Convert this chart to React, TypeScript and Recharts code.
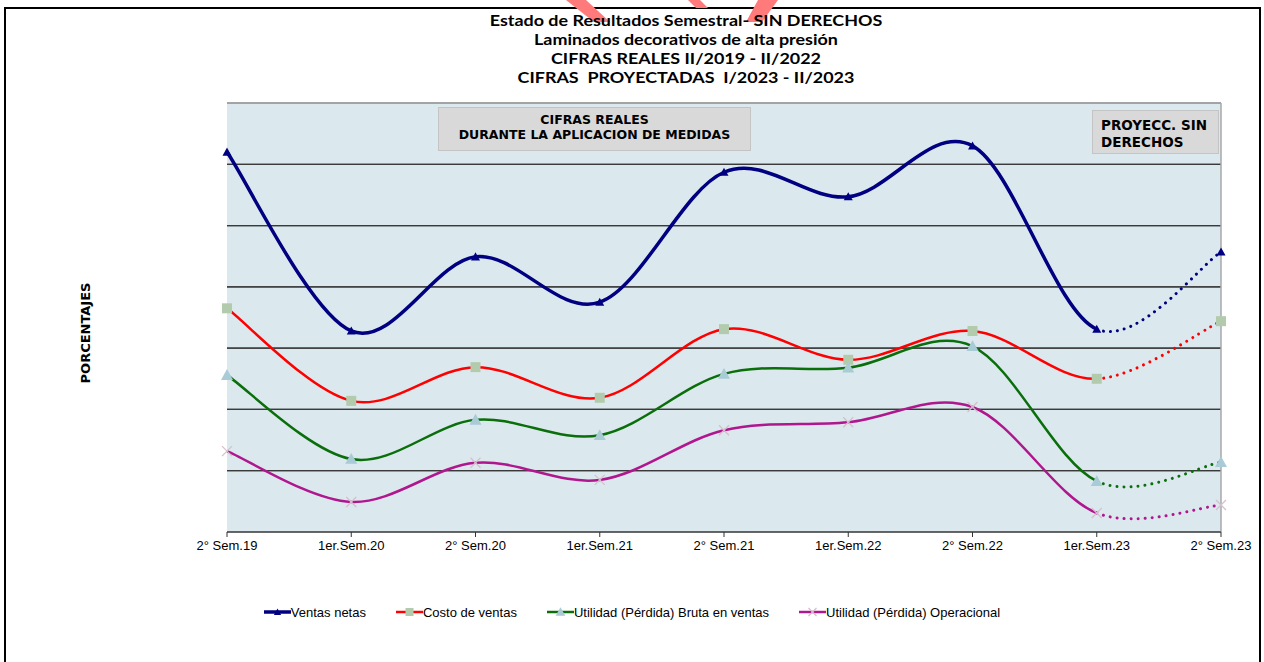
import React from "react";
import {
  LineChart,
  Line,
  XAxis,
  YAxis,
  CartesianGrid,
  ReferenceLine,
} from "recharts";

const categories = [
  "2° Sem.19",
  "1er.Sem.20",
  "2° Sem.20",
  "1er.Sem.21",
  "2° Sem.21",
  "1er.Sem.22",
  "2° Sem.22",
  "1er.Sem.23",
  "2° Sem.23",
];
const ventasNetas = [6.2, 3.28, 4.49, 3.75, 5.87, 5.47, 6.3, 3.31, 4.57];
const costoVentas = [3.65, 2.14, 2.69, 2.19, 3.31, 2.81, 3.28, 2.5, 3.44];
const utilidadBruta = [2.56, 1.19, 1.83, 1.58, 2.58, 2.68, 3.03, 0.83, 1.14];
const utilidadOperacional = [1.32, 0.49, 1.13, 0.85, 1.66, 1.79, 2.04, 0.31, 0.44];
const yTicks = [0, 1, 2, 3, 4, 5, 6, 7];
const gridValues = [1, 2, 3, 4, 5, 6];
const titleLines = [
  "Estado de Resultados Semestral- SIN DERECHOS",
  "Laminados decorativos de alta presión",
  "CIFRAS REALES II/2019 - II/2022",
  "CIFRAS  PROYECTADAS  I/2023 - II/2023",
];

const data = categories.map((c, i) => ({
  cat: c,
  ventas: ventasNetas[i],
  costo: costoVentas[i],
  bruta: utilidadBruta[i],
  oper: utilidadOperacional[i],
}));

// Excel-like smoothing (Catmull-Rom via cubic Bezier) drawing only segments [from, to)
function makeCurve(from: number, to: number) {
  return (context: any) => {
    let pts: number[][] = [];
    return {
      areaStart() {},
      areaEnd() {},
      lineStart() {
        pts = [];
      },
      point(x: number, y: number) {
        pts.push([+x, +y]);
      },
      lineEnd() {
        const n = pts.length;
        if (n === 0 || from >= n) return;
        const end = Math.min(to, n - 1);
        context.moveTo(pts[from][0], pts[from][1]);
        for (let i = from; i < end; i++) {
          const p0 = pts[Math.max(i - 1, 0)];
          const p1 = pts[i];
          const p2 = pts[i + 1];
          const p3 = pts[Math.min(i + 2, n - 1)];
          const c1x = p1[0] + (p2[0] - p0[0]) / 6;
          const c1y = p1[1] + (p2[1] - p0[1]) / 6;
          const c2x = p2[0] - (p3[0] - p1[0]) / 6;
          const c2y = p2[1] - (p3[1] - p1[1]) / 6;
          context.bezierCurveTo(c1x, c1y, c2x, c2y, p2[0], p2[1]);
        }
      },
    };
  };
}

const solidCurve = makeCurve(0, 7);
const dottedCurve = makeCurve(7, 8);

type Kind = "tri-navy" | "square" | "tri-blue" | "cross";

function Marker({ kind, cx, cy, scale = 1 }: { kind: Kind; cx: number; cy: number; scale?: number }) {
  if (kind === "tri-navy") {
    const s = 4.5 * scale;
    return (
      <polygon
        points={`${cx},${cy - s} ${cx + s},${cy + s * 0.8} ${cx - s},${cy + s * 0.8}`}
        fill="#000080"
      />
    );
  }
  if (kind === "square") {
    const h = 5 * scale;
    return <rect x={cx - h} y={cy - h} width={2 * h} height={2 * h} fill="#b2cbac" />;
  }
  if (kind === "tri-blue") {
    const s = 6 * scale;
    return (
      <polygon
        points={`${cx},${cy - s} ${cx + s},${cy + s * 0.8} ${cx - s},${cy + s * 0.8}`}
        fill="#a9cbd6"
      />
    );
  }
  const h = 5 * scale;
  return (
    <g stroke="#d4bfcc" strokeWidth={1.2}>
      <line x1={cx - h} y1={cy - h} x2={cx + h} y2={cy + h} />
      <line x1={cx - h} y1={cy + h} x2={cx + h} y2={cy - h} />
    </g>
  );
}

const makeDot = (kind: Kind) => (props: any) => {
  const { cx, cy, index } = props;
  if (cx == null || cy == null) return <g key={`d-${kind}-${index}`} />;
  return (
    <g key={`d-${kind}-${index}`}>
      <Marker kind={kind} cx={cx} cy={cy} />
    </g>
  );
};

const EmptyTick = () => <g />;

const series = [
  { key: "ventas", name: "Ventas netas", color: "#000080", width: 3.5, kind: "tri-navy" as Kind },
  { key: "costo", name: "Costo de ventas", color: "#ff0000", width: 2.5, kind: "square" as Kind },
  { key: "bruta", name: "Utilidad (Pérdida) Bruta en ventas", color: "#0a6e0a", width: 2.5, kind: "tri-blue" as Kind },
  { key: "oper", name: "Utilidad (Pérdida) Operacional", color: "#b0168e", width: 2.5, kind: "cross" as Kind },
];

const LegendBlock = () => (
  <div
    style={{
      position: "absolute",
      left: 0,
      top: 604,
      width: 1264,
      display: "flex",
      justifyContent: "center",
      gap: 30,
      fontFamily: "'Liberation Sans', Arial, sans-serif",
      fontSize: 13,
      color: "#000",
    }}
  >
    {series.map((s) => (
      <div key={s.key} style={{ display: "flex", alignItems: "center" }}>
        <svg width={27} height={16}>
          <line x1={0} y1={8} x2={27} y2={8} stroke={s.color} strokeWidth={s.width} />
          <Marker kind={s.kind} cx={13.5} cy={8} scale={0.8} />
        </svg>
        <span>{s.name}</span>
      </div>
    ))}
  </div>
);

export default function App() {
  return (
    <div style={{ position: "absolute", left: 0, top: 0, width: 1264, height: 662, background: "#fff", overflow: "hidden" }}>
      {/* frame */}
      <div
        style={{
          position: "absolute",
          left: 4,
          top: 7,
          width: 1253,
          height: 700,
          border: "2px solid #000",
        }}
      />
      {/* red watermark fragments */}
      <svg style={{ position: "absolute", left: 0, top: 0 }} width={1264} height={30}>
        <polygon points="566,0 586,0 610,22 594,22" fill="#ff7b7b" />
        <polygon points="688,0 700,0 708,8 696,8" fill="#ff7b7b" />
        <polygon points="758,0 778,0 762,22 746,22" fill="#ff7b7b" />
      </svg>
      {/* title */}
      <div
        style={{
          position: "absolute",
          left: 336,
          top: 10,
          width: 700,
          textAlign: "center",
          fontFamily: "Lato, 'Open Sans', sans-serif",
          fontWeight: 700,
          fontSize: 16,
          lineHeight: "19px",
          color: "#000",
          transform: "scaleX(1.12)",
          transformOrigin: "350px 0",
        }}
      >
        {titleLines.map((t, i) => (
          <div key={i} style={{ whiteSpace: "pre" }}>
            {t}
          </div>
        ))}
      </div>
      {/* y axis title */}
      <div
        style={{
          position: "absolute",
          left: 85,
          top: 333,
          transform: "translate(-50%, -50%) rotate(-90deg)",
          fontFamily: "'DejaVu Sans', Verdana, sans-serif",
          fontWeight: 700,
          fontSize: 13,
          whiteSpace: "nowrap",
        }}
      >
        PORCENTAJES
      </div>
      <div style={{ position: "absolute", left: 0, top: 0 }}>
        <LineChart
          width={1264}
          height={662}
          data={data}
          margin={{ top: 103, right: 43, bottom: 100, left: 227 }}
        >
          <CartesianGrid
            vertical={false}
            stroke="#3a3a3a"
            strokeWidth={1.2}
            fill="#dbe8ee"
            fillOpacity={1}
          />
          <XAxis
            dataKey="cat"
            height={30}
            interval={0}
            tickSize={5}
            tickMargin={4}
            stroke="#333"
            tick={{ fill: "#000", fontSize: 13, fontFamily: "'Liberation Sans', Arial, sans-serif" }}
          />
          <YAxis
            width={0}
            domain={[0, 7]}
            ticks={yTicks}
            interval={0}
            tick={EmptyTick}
            tickSize={5}
            stroke="#555"
          />
          {gridValues.map((v) => (
            <ReferenceLine key={`g-${v}`} y={v} stroke="#3a3a3a" strokeWidth={1.2} />
          ))}
          <ReferenceLine y={7} stroke="#a8a8a8" strokeWidth={1.5} />
          <ReferenceLine x="2° Sem.23" stroke="#a8a8a8" strokeWidth={1.5} />
          {series.map((s) => (
            <Line
              key={`dot-${s.key}`}
              dataKey={s.key}
              type={dottedCurve as any}
              stroke={s.color}
              strokeWidth={3}
              strokeDasharray="0.01 7"
              strokeLinecap="round"
              dot={false}
              activeDot={false}
              legendType="none"
              isAnimationActive={false}
            />
          ))}
          {series.map((s) => (
            <Line
              key={s.key}
              dataKey={s.key}
              name={s.name}
              type={solidCurve as any}
              stroke={s.color}
              strokeWidth={s.width}
              dot={makeDot(s.kind)}
              activeDot={false}
              isAnimationActive={false}
            />
          ))}
        </LineChart>
      </div>
      <LegendBlock />
      {/* annotation boxes */}
      <div
        style={{
          position: "absolute",
          left: 438,
          top: 107,
          width: 311,
          height: 38,
          background: "#d9d9d9",
          border: "1px solid #c4c4c4",
          fontFamily: "'DejaVu Sans', Verdana, sans-serif",
          fontWeight: 700,
          fontSize: 12.5,
          lineHeight: "15px",
          textAlign: "center",
          paddingTop: 4,
          boxSizing: "content-box",
        }}
      >
        <div>CIFRAS REALES</div>
        <div>DURANTE LA APLICACION DE MEDIDAS</div>
      </div>
      <div
        style={{
          position: "absolute",
          left: 1092,
          top: 110,
          width: 127,
          height: 44,
          background: "#d9d9d9",
          border: "1px solid #c4c4c4",
          fontFamily: "'DejaVu Sans', Verdana, sans-serif",
          fontWeight: 700,
          fontSize: 13.5,
          lineHeight: "17px",
          paddingLeft: 8,
          paddingTop: 6,
          boxSizing: "border-box",
        }}
      >
        <div>PROYECC. SIN</div>
        <div>DERECHOS</div>
      </div>
    </div>
  );
}
